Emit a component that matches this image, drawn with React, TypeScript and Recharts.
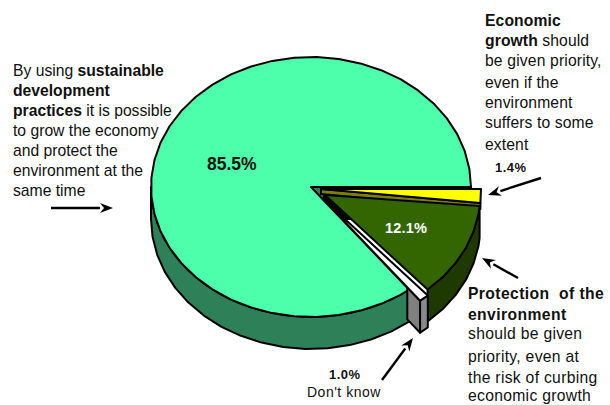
import { Pie, PieChart } from 'recharts';

const CATEGORIES = ['Sustainable development', 'Economic growth', 'Protection of the environment', "Don't know"];
const SHARES = [85.5, 1.4, 12.1, 1.0];

const FONT = '"Liberation Sans", Arial, sans-serif';
const SQUASH = 0.8125;
const DEPTH = 32;
const ARC_STEP = 8;
// main slice is drawn first, then clockwise so the grey block lands on top
const START_ANGLE = (360 * SHARES[0]) / 100;

const SLICE_STYLES = [
  { top: '#4dffaa', side: '#2e8059', cut: '#000000', dx: 0, dy: 0, scale: 1, tilt: SQUASH },
  { top: '#ffff00', side: '#7f7f00', cut: '#7f7f00', dx: 10, dy: 2, scale: 1, tilt: 1 },
  { top: '#336600', side: '#1f3a00', cut: '#1f3a00', dx: 14, dy: 8, scale: 0.97, tilt: SQUASH },
  { top: '#ffffff', side: '#8a8a8a', cut: '#808080', dx: 11, dy: 11, scale: 1, tilt: SQUASH },
];

// bold percent labels, drawn with the pie so they sit above the sectors
const LABEL_STYLES = [
  { x: 207, y: 170, size: 17.5, fill: '#111', spacing: 0 },
  { x: 495, y: 172, size: 13, fill: '#111', spacing: 0.5 },
  { x: 385, y: 233, size: 14.5, fill: '#fff', spacing: 0.2 },
  { x: 329, y: 379, size: 13, fill: '#111', spacing: 0.5 },
];

const toPoints = (pts: number[][]) => pts.map(p => `${p[0].toFixed(1)},${p[1].toFixed(1)}`).join(' ');

function at(cx: number, cy: number, rx: number, ry: number, deg: number) {
  const t = (deg * Math.PI) / 180;
  return [cx + rx * Math.cos(t), cy - ry * Math.sin(t)];
}

function arcPoints(cx: number, cy: number, rx: number, ry: number, from: number, to: number) {
  const pts: number[][] = [];
  for (let a = from; a < to; a += ARC_STEP) pts.push(at(cx, cy, rx, ry, a));
  pts.push(at(cx, cy, rx, ry, to));
  return pts;
}

const SliceShape = (props: any) => {
  const index = CATEGORIES.indexOf(props.name);
  const style = SLICE_STYLES[index];
  const cx = props.cx + style.dx;
  const cy = props.cy + style.dy;
  const rx = props.outerRadius * style.scale;
  const ry = rx * style.tilt;
  // normalise to a counter-clockwise range in 0..360 for the wall test
  let lo = Math.min(props.startAngle, props.endAngle);
  let hi = Math.max(props.startAngle, props.endAngle);
  if (lo < 0) { lo += 360; hi += 360; }

  const down = (pts: number[][]) => pts.map(p => [p[0], p[1] + DEPTH]);
  const line = { stroke: '#000', strokeWidth: 2, strokeLinejoin: 'round' as const };

  const wallFrom = Math.max(lo, 180);
  const wallTo = Math.min(hi, 360);
  // the yellow sliver has no wall of its own, the green slice hides it
  const outer = wallTo > wallFrom && index !== 1 ? arcPoints(cx, cy, rx, ry, wallFrom, wallTo) : [];
  const topArc = arcPoints(cx, cy, rx, ry, lo, hi);
  const start = at(cx, cy, rx, ry, lo);

  let cutFace: number[][] | null = null;
  if (index === 0) {
    // dark backing seen through the wedge gap between the pulled-out slices
    const tip = at(cx, cy, rx, ry, hi);
    const run = ((tip[0] - cx) / (tip[1] - cy)) * DEPTH;
    cutFace = [[cx, cy], start, [start[0], start[1] + DEPTH], [cx + run, cy + DEPTH]];
  } else if (index === 1) {
    cutFace = [[cx, cy], start, [start[0], start[1] + 6], [cx, cy + 5]];
  } else if (index === 3) {
    // the part of the block that sticks out past the main slice
    const from = [cx + (start[0] - cx) * 0.87, cy + (start[1] - cy) * 0.87];
    cutFace = [from, start, [start[0], start[1] + DEPTH], [from[0], from[1] + DEPTH]];
  }

  return (
    <g>
      {cutFace && <polygon points={toPoints(cutFace)} fill={style.cut} {...line} />}
      {index === 0 && (
        <polygon points={toPoints([[cx, cy], [cx + 12, cy], [cx + 12, cy + 12]])} fill={style.side} />
      )}
      {outer.length > 0 && (
        <polygon points={toPoints([...outer, ...down(outer).reverse()])} fill={style.side} {...line} />
      )}
      <polygon points={toPoints([[cx, cy], ...topArc])} fill={style.top} {...line} />
    </g>
  );
};

const pct = (v: number) => `${v.toFixed(1)}%`;

const SliceLabel = (props: any) => {
  const index = CATEGORIES.indexOf(props.name);
  const s = LABEL_STYLES[index];
  return (
    <text x={s.x} y={s.y} fontFamily={FONT} fontSize={s.size} fontWeight={700} fill={s.fill} letterSpacing={s.spacing} textAnchor="start">
      {pct(SHARES[index])}
    </text>
  );
};

type Run = { text: string; bold?: boolean };
type Line = { x: number; y: number; runs: Run[]; spacing?: number };

const NOTE_LINES: Line[] = [
  { x: 13, y: 76, runs: [{ text: 'By using ' }, { text: 'sustainable', bold: true }] },
  { x: 13, y: 96, runs: [{ text: 'development', bold: true }] },
  { x: 13, y: 116, runs: [{ text: 'practices', bold: true }, { text: ' it is possible' }] },
  { x: 13, y: 136, runs: [{ text: 'to grow the economy' }] },
  { x: 13, y: 156, runs: [{ text: 'and protect the' }] },
  { x: 13, y: 176, runs: [{ text: 'environment at the' }] },
  { x: 13, y: 196, runs: [{ text: 'same time' }] },
  { x: 485, y: 26, runs: [{ text: 'Economic', bold: true }], spacing: 0.1 },
  { x: 485, y: 46, runs: [{ text: 'growth', bold: true }, { text: ' should' }], spacing: 0.1 },
  { x: 485, y: 66, runs: [{ text: 'be given priority,' }], spacing: 0.15 },
  { x: 485, y: 88, runs: [{ text: 'even if the' }], spacing: 0.1 },
  { x: 485, y: 108, runs: [{ text: 'environment' }], spacing: 0.1 },
  { x: 485, y: 128, runs: [{ text: 'suffers to some' }], spacing: 0.1 },
  { x: 485, y: 150, runs: [{ text: 'extent' }], spacing: 0.1 },
  { x: 468, y: 299, runs: [{ text: 'Protection  of the', bold: true }], spacing: 0.4 },
  { x: 468, y: 320, runs: [{ text: 'environment', bold: true }], spacing: 0.4 },
  { x: 468, y: 339, runs: [{ text: 'should be given' }], spacing: 0.3 },
  { x: 468, y: 362, runs: [{ text: 'priority, even at' }], spacing: 0.3 },
  { x: 468, y: 383, runs: [{ text: 'the risk of curbing' }], spacing: 0.3 },
  { x: 468, y: 401, runs: [{ text: 'economic growth' }], spacing: 0.3 },
];

const ARROWS = [
  [51, 208, 113, 208],
  [541, 178, 488, 195],
  [518, 278, 482, 258],
  [382, 380, 413, 338],
];

const Arrow = ({ from }: { from: number[] }) => {
  const [x1, y1, x2, y2] = from;
  const len = Math.hypot(x2 - x1, y2 - y1);
  const ux = (x2 - x1) / len;
  const uy = (y2 - y1) / len;
  const head = 13;
  const wing = 5;
  const bx = x2 - ux * head;
  const by = y2 - uy * head;
  return (
    <g>
      <line x1={x1} y1={y1} x2={bx} y2={by} stroke="#000" strokeWidth={2.4} />
      <polygon
        points={toPoints([[x2, y2], [bx - uy * wing, by + ux * wing], [x2 - ux * 9, y2 - uy * 9], [bx + uy * wing, by - ux * wing]])}
        fill="#000"
      />
    </g>
  );
};

export default function App() {
  const data = CATEGORIES.map((name, i) => ({ name, value: SHARES[i] }));

  return (
    <div style={{ position: 'absolute', left: 0, top: 0, width: 610, height: 405, background: '#fff' }}>
      <PieChart width={610} height={405} margin={{ top: 0, right: 0, bottom: 0, left: 0 }}>
        <Pie
          data={data}
          dataKey="value"
          nameKey="name"
          cx={311}
          cy={187}
          innerRadius={0}
          outerRadius={160}
          startAngle={START_ANGLE}
          endAngle={START_ANGLE - 360}
          paddingAngle={0}
          shape={SliceShape}
          label={SliceLabel}
          labelLine={false}
          isAnimationActive={false}
          rootTabIndex={-1}
        />
        {ARROWS.map((a, i) => <Arrow key={i} from={a} />)}
        {NOTE_LINES.map((l, i) => (
          <text key={i} x={l.x} y={l.y} fontFamily={FONT} fontSize={15.7} fill="#111" letterSpacing={l.spacing} xmlSpace="preserve">
            {l.runs.map((r, j) => (
              <tspan key={j} fontWeight={r.bold ? 700 : 400}>{r.text}</tspan>
            ))}
          </text>
        ))}
        <text x={307} y={397} fontFamily={FONT} fontSize={14} fill="#111" letterSpacing={0.5}>{CATEGORIES[3]}</text>
      </PieChart>
    </div>
  );
}
